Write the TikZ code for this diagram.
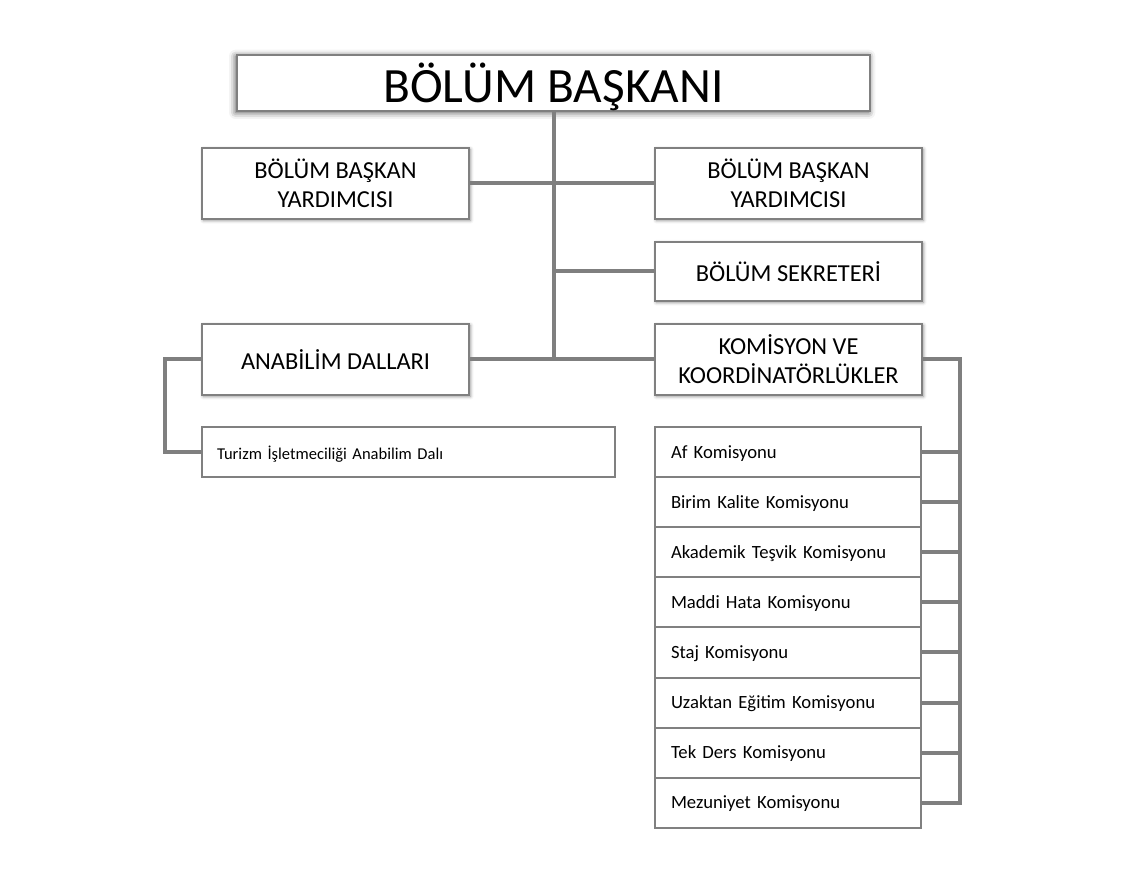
\documentclass[tikz,border=0pt]{standalone}
\usepackage{fontspec}
\setmainfont{Carlito}
\usetikzlibrary{positioning,shadows.blur}
\definecolor{boxgray}{RGB}{128,128,128}
\definecolor{linegray}{RGB}{127,127,127}
\begin{document}
\begin{tikzpicture}
[x=0.75pt,y=-0.75pt,%
  plainbox/.style={draw=boxgray,line width=1.5pt,fill=white,inner sep=2pt,align=center},%
  headbox/.style={plainbox,minimum width=474.75pt,minimum height=42pt,text depth=0pt,%
    font=\fontsize{37}{40}\selectfont,%
    blur shadow={shadow xshift=-1pt,shadow yshift=-1pt,shadow blur radius=5pt,shadow opacity=70}},%
  unitbox/.style={plainbox,minimum width=200.25pt,minimum height=53.25pt,%
    font=\fontsize{18.3}{21.75}\selectfont,%
    blur shadow={shadow xshift=1pt,shadow yshift=-1pt,shadow blur radius=2.5pt,shadow opacity=45}},%
  rowbox/.style={plainbox,outer sep=0pt,minimum height=37.5pt,inner xsep=12pt,text depth=0pt,%
    text width=175.5pt,align=left,font=\fontsize{14}{16}\selectfont},%
  conn/.style={draw=linegray,line width=3pt}]
\useasboundingbox (0,0) rectangle (1125,887);

% head and first level
\node[headbox] (bb) at (553.5,83) {BÖLÜM BAŞKANI};
\node[unitbox] (bby1) at (335.5,183.5) {BÖLÜM BAŞKAN\\YARDIMCISI};
\node[unitbox] (bby2) at (788.5,183.5) {BÖLÜM BAŞKAN\\YARDIMCISI};
\node[unitbox,minimum height=44.25pt] (sek) at (788.5,271.5) {BÖLÜM SEKRETERİ};
\node[unitbox] (ana) at (335.5,359.5) {ANABİLİM DALLARI};
\node[unitbox] (kom) at (788.5,359.5) {KOMİSYON VE\\KOORDİNATÖRLÜKLER};

% anabilim dallari
\node[rowbox,text width=287.25pt,inner xsep=11.25pt,font=\fontsize{12.4}{14}\selectfont]
  (tur) at (408.5,452.5) {Turizm İşletmeciliği Anabilim Dalı};

% komisyonlar
\node[rowbox] (k1) at (788,452.5) {Af Komisyonu};
\node[rowbox,below=0pt of k1] (k2) {Birim Kalite Komisyonu};
\node[rowbox,below=0pt of k2] (k3) {Akademik Teşvik Komisyonu};
\node[rowbox,below=0pt of k3] (k4) {Maddi Hata Komisyonu};
\node[rowbox,below=0pt of k4] (k5) {Staj Komisyonu};
\node[rowbox,below=0pt of k5] (k6) {Uzaktan Eğitim Komisyonu};
\node[rowbox,below=0pt of k6] (k7) {Tek Ders Komisyonu};
\node[rowbox,below=0pt of k7] (k8) {Mezuniyet Komisyonu};

% connectors
\draw[conn] (bb.south) -- (bb.south |- ana.east);
\draw[conn] (bby1.east) -- (bby2.west);
\draw[conn] (sek.west) -- (sek.west -| bb.south);
\draw[conn] (ana.east) -- (kom.west);
\draw[conn] (ana.west) -- ++(-36,0) |- (tur.west);
\coordinate (kbar) at (960,359.5);
\draw[conn] (kom.east) -- (kbar) |- (k8.east);
\draw[conn] (k1.east) -- (k1.east -| kbar);
\draw[conn] (k2.east) -- (k2.east -| kbar);
\draw[conn] (k3.east) -- (k3.east -| kbar);
\draw[conn] (k4.east) -- (k4.east -| kbar);
\draw[conn] (k5.east) -- (k5.east -| kbar);
\draw[conn] (k6.east) -- (k6.east -| kbar);
\draw[conn] (k7.east) -- (k7.east -| kbar);
\end{tikzpicture}
\end{document}
